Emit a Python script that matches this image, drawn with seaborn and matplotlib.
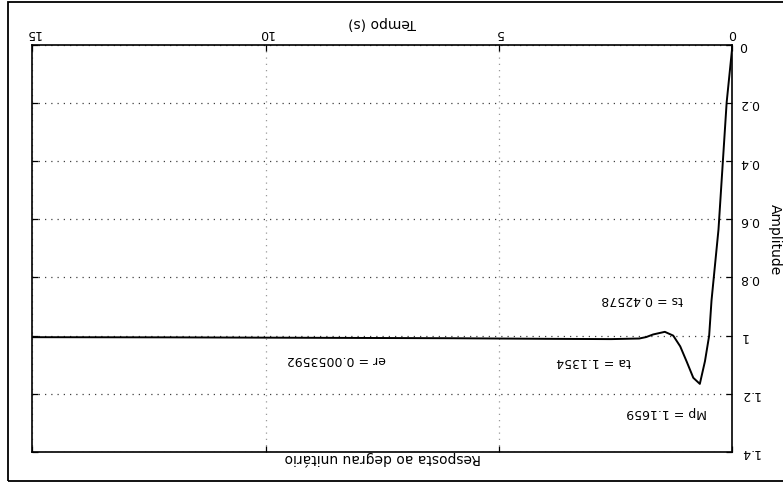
import matplotlib
matplotlib.use("Agg")
import matplotlib.pyplot as plt
from matplotlib.patches import Rectangle
import seaborn as sns

# Step response samples: time (s) and amplitude
tempo = [0.0, 0.125, 0.30, 0.45, 0.50, 0.59, 0.70, 0.84, 0.98, 1.12, 1.27,
         1.45, 1.70, 1.85, 2.0, 2.6, 4.0, 6.0, 8.0, 10.0, 12.0, 15.0]
amplitude = [0.0, 0.198, 0.635, 0.88, 1.0, 1.088, 1.1659, 1.145, 1.09, 1.037,
             1.0, 0.987, 0.996, 1.005, 1.010, 1.012, 1.011, 1.009, 1.008,
             1.007, 1.006, 1.0054]

x_ticks = [0, 5, 10, 15]
x_tick_labels = ["0", "5", "10", "15"]
y_ticks = [0, 0.2, 0.4, 0.6, 0.8, 1.0, 1.2, 1.4]
y_tick_labels = ["0", "0.2", "0.4", "0.6", "0.8", "1", "1.2", "1.4"]

# Performance indices written on the chart: (text, time, amplitude)
indices = [
    ("ts = 0.42578", 1.93, 0.874),
    ("ta = 1.1354", 2.98, 1.087),
    ("er = 0.0053592", 8.49, 1.080),
    ("Mp = 1.1659", 1.42, 1.262),
]

sns.set_style("white")
plt.rcParams["font.family"] = ["DejaVu Sans"]
plt.rcParams["text.color"] = "black"
plt.rcParams["axes.labelcolor"] = "black"
plt.rcParams["axes.titlecolor"] = "black"

fig = plt.figure(figsize=(7.83, 4.85), dpi=100)
ax = fig.add_axes([0.0415, 0.066, 0.894, 0.8398])

sns.lineplot(x=tempo, y=amplitude, ax=ax, color="black", lw=1.4,
             estimator=None, sort=False)

# The page is printed upside down: both axes are reversed
ax.set_xlim(15, 0)
ax.set_ylim(1.4, 0)

ax.set_xticks(x_ticks)
ax.set_xticklabels(x_tick_labels, rotation=180, fontsize=9, color="black")
ax.set_yticks(y_ticks)
ax.set_yticklabels(y_tick_labels, rotation=180, fontsize=9, va="center",
                   color="black")

ax.tick_params(axis="both", direction="in", length=4, width=0.9,
               top=True, bottom=True, left=True, right=True,
               labeltop=True, labelbottom=False,
               labelleft=False, labelright=True, colors="black")
ax.tick_params(axis="x", pad=4)
ax.tick_params(axis="y", pad=5)

for side in ax.spines.values():
    side.set_color("black")
    side.set_linewidth(1.2)

ax.grid(False)
ax.xaxis.grid(True, color="0.6", linestyle=(0, (1, 4)), lw=0.9)
ax.yaxis.grid(True, color="0.25", linestyle=(0, (1, 4)), lw=0.9)

for text, t, a in indices:
    ax.text(t, a, text, rotation=180, ha="center", va="center", fontsize=9,
            color="black")

ax.set_xlabel("Tempo (s)", rotation=180, fontsize=10, color="black")
ax.xaxis.set_label_position("top")
ax.xaxis.label.set_va("center")
ax.xaxis.label.set_ha("center")
ax.xaxis.set_label_coords(0.5, 1.056)

ax.set_ylabel("Amplitude", rotation=270, fontsize=10, color="black")
ax.yaxis.set_label_position("right")
ax.yaxis.label.set_rotation_mode("default")
ax.yaxis.label.set_va("center")
ax.yaxis.label.set_ha("center")
ax.yaxis.set_label_coords(1.061, 0.523)

ax.set_title("Resposta ao degrau unitário", y=-0.034, rotation=180,
             va="center", fontsize=10, color="black")

# Page frame around the figure
fig.add_artist(Rectangle((8 / 783, 3 / 485), 1.0, 479 / 485,
                         transform=fig.transFigure, fill=False,
                         ec="black", lw=1.3))

fig.savefig("out.png", dpi=100, facecolor="white")
